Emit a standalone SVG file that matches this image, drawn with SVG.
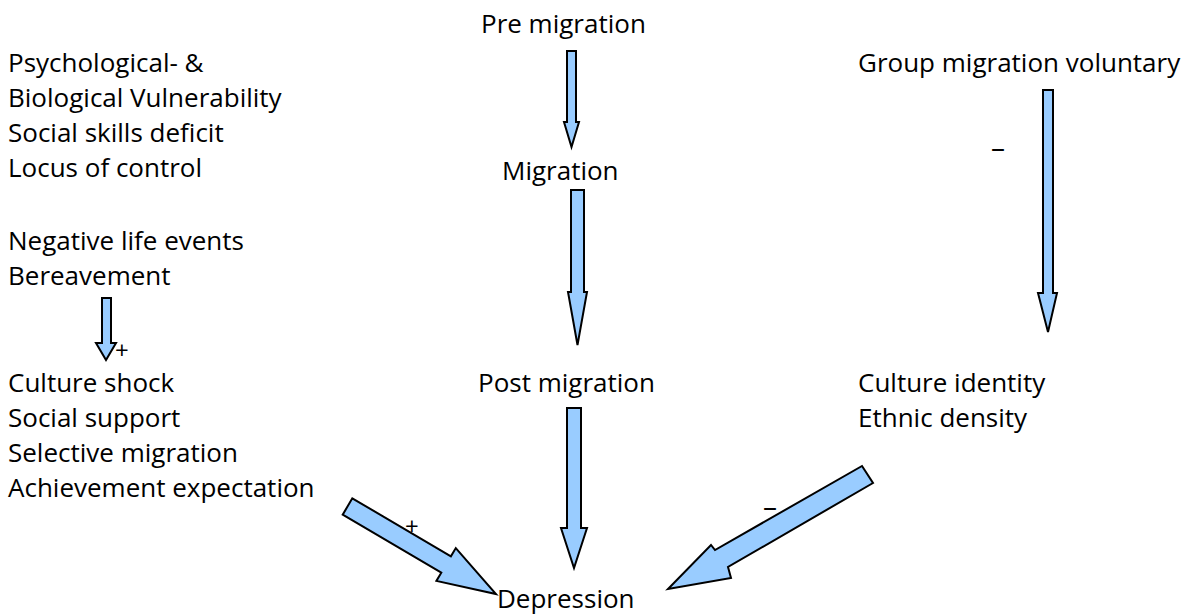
<svg xmlns="http://www.w3.org/2000/svg" width="1189" height="614" viewBox="0 0 1189 614">
<style>
text{font-family:"Open Sans","Noto Sans","DejaVu Sans",sans-serif;font-size:26px;fill:#000}
.arr{fill:#99ccff;stroke:#000;stroke-width:2;stroke-linejoin:miter}
.sign{font-size:24px}
.minus{font-size:28px}
</style>
<rect width="1189" height="614" fill="#fff"/>
<g id="pre"><text x="481" y="33">Pre migration</text></g>
<g id="migration"><text x="502" y="180">Migration</text></g>
<g id="post"><text x="478" y="392">Post migration</text></g>
<g id="depression"><text x="497" y="608">Depression</text></g>
<g id="vulnerability">
<text x="8" y="72">Psychological- &amp;</text>
<text x="8" y="107">Biological Vulnerability</text>
<text x="8" y="142">Social skills deficit</text>
<text x="8" y="177">Locus of control</text>
</g>
<g id="life-events">
<text x="8" y="250">Negative life events</text>
<text x="8" y="285">Bereavement</text>
</g>
<g id="culture-shock">
<text x="8" y="392">Culture shock</text>
<text x="8" y="427">Social support</text>
<text x="8" y="462">Selective migration</text>
<text x="8" y="497">Achievement expectation</text>
</g>
<g id="group-migration"><text x="858" y="72">Group migration voluntary</text></g>
<g id="culture-identity">
<text x="858" y="392">Culture identity</text>
<text x="858" y="427">Ethnic density</text>
</g>
<g id="connectors">
<polygon class="arr" points="567,51 576,51 576,122 579,122 571.5,147 564,122 567,122"/>
<polygon class="arr" points="571,190 584,190 584,292 587,292 577.5,345 568,292 571,292"/>
<polygon class="arr" points="567,408 581,408 581,528 587,528 574,568 561,528 567,528"/>
<polygon class="arr" points="1043,90 1053,90 1053,293 1057,293 1048,332 1038,293 1043,293"/>
<polygon class="arr" points="102,298 111,298 111,343 116,343 106,360 96,343 102,343"/>
<polygon class="arr" points="352.3,498.3 450.9,556.3 455.8,548.1 496,594 436.4,580.9 441.3,572.7 342.7,514.7"/>
<polygon class="arr" points="862,466 873,483 728,567 731,578 668,589 711,545 715,550"/>
<text class="sign" x="115" y="359">+</text>
<text class="sign" x="405" y="535">+</text>
<text class="minus" x="991" y="157">–</text>
<text class="minus" x="763" y="516">–</text>
</g>
</svg>
